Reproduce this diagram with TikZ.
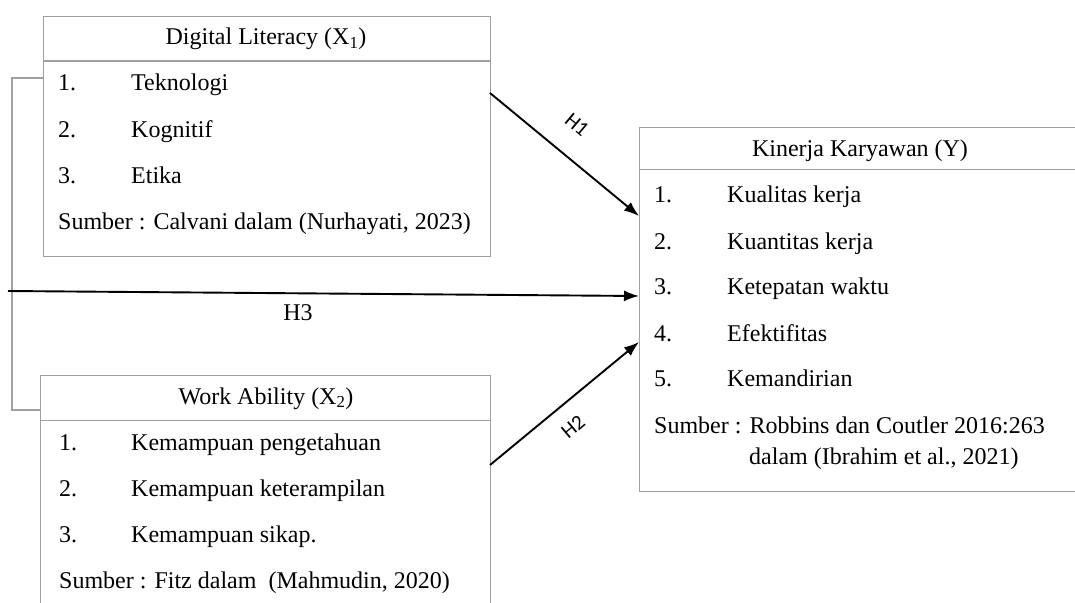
\documentclass[tikz,border=0pt]{standalone}
\usepackage{fontspec}
\setmainfont{Liberation Serif}
\newfontfamily\lblfont{Carlito}
\usetikzlibrary{arrows.meta}
\definecolor{boxgray}{HTML}{A0A0A0}
\begin{document}
\begin{tikzpicture}[x=1pt,y=-1pt,
  boxframe/.style={draw=boxgray,line width=1.1pt,fill=white,anchor=north west,inner sep=0pt},
  divider/.style={draw=boxgray,line width=1pt},
  txt/.style={anchor=west,inner sep=0pt,font=\fontsize{24}{28}\selectfont,text height=17pt,text depth=5pt},
  head/.style={anchor=center,inner sep=0pt,font=\fontsize{24}{28}\selectfont,text height=17pt,text depth=5pt},
  arr/.style={draw=black,line width=1.9pt,-{Latex[length=15pt,width=11pt]}},
  hlab/.style={inner sep=0pt,font=\lblfont\fontsize{21}{24}\selectfont},
  bracket/.style={draw=boxgray,line width=1.1pt}]
\useasboundingbox (0,0) rectangle (1075,602);
\clip (0,0) rectangle (1075,602);
\fill[white] (0,0) rectangle (1075,602);

% bracket on the left
\coordinate (bt) at (12,78);
\coordinate (bb) at (12,410);
\draw[bracket] (43,78) -- (bt) -- (bb) -- (40,410);

% Box X1
\node[boxframe,minimum width=447pt,minimum height=240pt] (x1) at (43,16) {};
\draw[divider] (43,61) -- (490,61);
\node[head] (x1h) at (266,39) {Digital Literacy (X\textsubscript{1})};
\node[txt] (x1n1) at (58,84) {1.};
\node[txt] (x1t1) at (131,84) {Teknologi};
\node[txt] (x1n2) at (58,131) {2.};
\node[txt] (x1t2) at (131,131) {Kognitif};
\node[txt] (x1n3) at (58,177) {3.};
\node[txt] (x1t3) at (131,177) {Etika};
\node[txt] (x1s) at (58,223) {Sumber : Calvani dalam (Nurhayati, 2023)};

% Box X2
\node[boxframe,minimum width=450pt,minimum height=260pt] (x2) at (40,375) {};
\draw[divider] (40,420) -- (490,420);
\node[head] (x2h) at (266,398) {Work Ability (X\textsubscript{2})};
\node[txt] (x2n1) at (59,444) {1.};
\node[txt] (x2t1) at (131,444) {Kemampuan pengetahuan};
\node[txt] (x2n2) at (59,490) {2.};
\node[txt] (x2t2) at (131,490) {Kemampuan keterampilan};
\node[txt] (x2n3) at (59,536) {3.};
\node[txt] (x2t3) at (131,536) {Kemampuan sikap.};
\node[txt] (x2s) at (59,582) {Sumber : Fitz dalam\ \ (Mahmudin, 2020)};

% Box Y
\node[boxframe,minimum width=460pt,minimum height=364pt] (y) at (639,127) {};
\draw[divider] (639,169) -- (1100,169);
\node[head] (yh) at (860,150) {Kinerja Karyawan (Y)};
\node[txt] (yn1) at (654,196) {1.};
\node[txt] (yt1) at (727,196) {Kualitas kerja};
\node[txt] (yn2) at (654,243) {2.};
\node[txt] (yt2) at (727,243) {Kuantitas kerja};
\node[txt] (yn3) at (654,288) {3.};
\node[txt] (yt3) at (727,288) {Ketepatan waktu};
\node[txt] (yn4) at (654,335) {4.};
\node[txt] (yt4) at (727,335) {Efektifitas};
\node[txt] (yn5) at (654,380) {5.};
\node[txt] (yt5) at (727,380) {Kemandirian};
\node[txt] (ys1) at (654,427) {Sumber : Robbins dan Coutler 2016:263};
\node[txt] (ys2) at (749,458) {dalam (Ibrahim et al., 2021)};

% connectors
\coordinate (h1s) at (490,93);
\coordinate (h1e) at (639,216);
\coordinate (h2s) at (490,465);
\coordinate (h2e) at (639,342);
\coordinate (h3s) at (8,291);
\coordinate (h3e) at (639,296);
\draw[arr] (h1s) -- (h1e);
\draw[arr] (h2s) -- (h2e);
\draw[arr] (h3s) -- (h3e);
\node[hlab,rotate=-40] (lh1) at (577,125) {H1};
\node[hlab,rotate=40] (lh2) at (573,427) {H2};
\node[head] (lh3) at (298,314) {H3};
\end{tikzpicture}
\end{document}
